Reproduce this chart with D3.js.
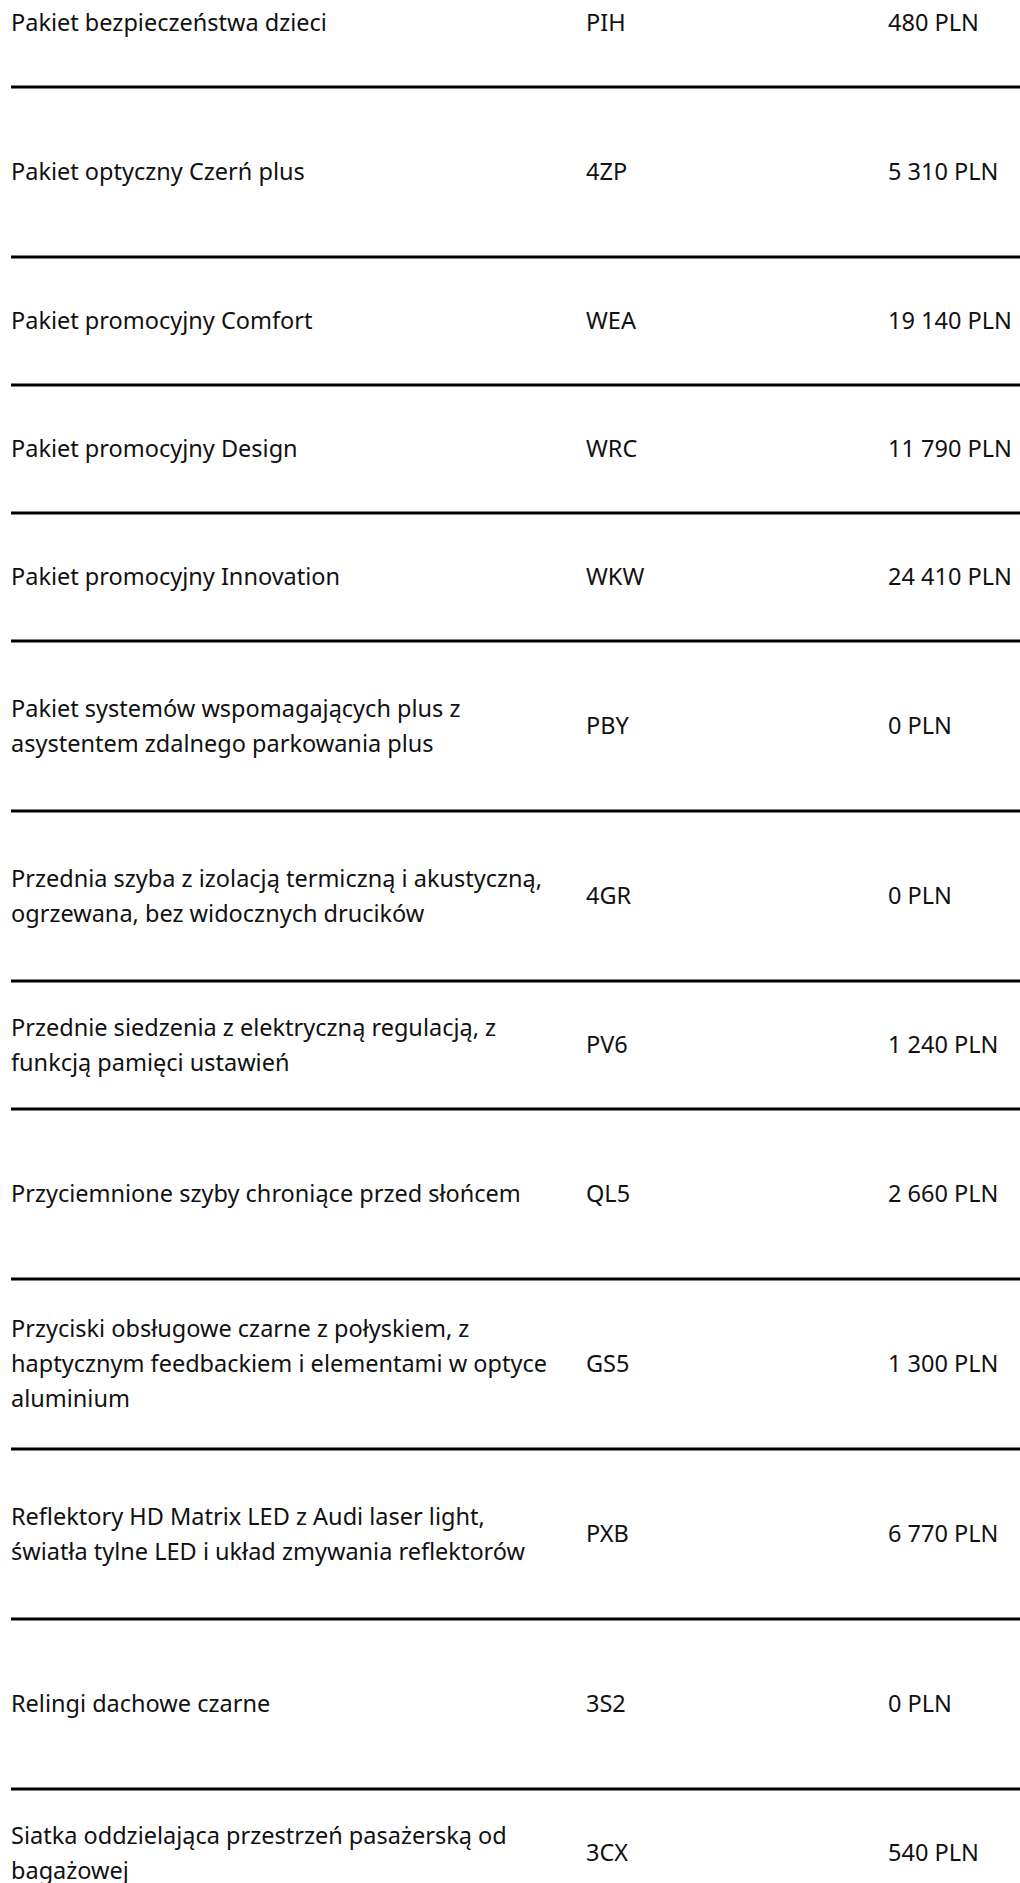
<!DOCTYPE html>
<html>
<head>
<meta charset="utf-8">
<script src="https://cdn.jsdelivr.net/npm/d3@7"></script>
<style>
body { margin:0; background:#fff; }
text { font-family:"Noto Sans", sans-serif; font-size:23.5px; fill:#111; }
</style>
</head>
<body>
<script>
var options = [
	"Pakiet bezpieczeństwa dzieci",
	"Pakiet optyczny Czerń plus",
	"Pakiet promocyjny Comfort",
	"Pakiet promocyjny Design",
	"Pakiet promocyjny Innovation",
	"Pakiet systemów wspomagających plus z\nasystentem zdalnego parkowania plus",
	"Przednia szyba z izolacją termiczną i akustyczną,\nogrzewana, bez widocznych drucików",
	"Przednie siedzenia z elektryczną regulacją, z\nfunkcją pamięci ustawień",
	"Przyciemnione szyby chroniące przed słońcem",
	"Przyciski obsługowe czarne z połyskiem, z\nhaptycznym feedbackiem i elementami w optyce\naluminium",
	"Reflektory HD Matrix LED z Audi laser light,\nświatła tylne LED i układ zmywania reflektorów",
	"Relingi dachowe czarne",
	"Siatka oddzielająca przestrzeń pasażerską od\nbagażowej"
];
var codes = ["PIH","4ZP","WEA","WRC","WKW","PBY","4GR","PV6","QL5","GS5","PXB","3S2","3CX"];
var prices = [480, 5310, 19140, 11790, 24410, 0, 0, 1240, 2660, 1300, 6770, 0, 540];

// layout: row pitch in px (the page cuts the first row at the top)
var rowPitch = [128,170,128,128,128,170,170,128,170,170,170,170,128];
var top0 = -41, lineGap = 35;

var width = 1020, height = 1883;
var pl = d3.formatLocale({decimal:",", thousands:"\u00a0", grouping:[3], currency:["","\u00a0PLN"]});
var fmt = pl.format("$,.0f");

var tops = [], y0 = top0;
rowPitch.forEach(function(p){ tops.push(y0); y0 += p; });

var rowIdx = d3.range(options.length);
var yMid = d3.scaleOrdinal().domain(rowIdx).range(rowIdx.map(function(i){ return tops[i] + rowPitch[i]/2; }));
var yLine = d3.scaleOrdinal().domain(rowIdx).range(rowIdx.map(function(i){ return tops[i] + rowPitch[i]; }));
var x = d3.scaleOrdinal().domain(["option","code","price"]).range([11, 586, 888]);

var svg = d3.select("body").append("svg")
	.attr("width", width)
	.attr("height", height);

var rows = svg.selectAll(".row")
	.data(rowIdx)
	.enter().append("g")
	.attr("class", "row");

rows.append("line")
	.attr("x1", 11)
	.attr("x2", width)
	.attr("y1", function(i){ return yLine(i); })
	.attr("y2", function(i){ return yLine(i); })
	.attr("stroke", "#000")
	.attr("stroke-width", 3);

rows.append("text")
	.attr("x", x("option"))
	.attr("y", function(i){ return yMid(i); })
	.each(function(i){
		var parts = options[i].split("\n");
		var t = d3.select(this);
		parts.forEach(function(s, k){
			t.append("tspan")
				.attr("x", x("option"))
				.attr("y", yMid(i) + (k - (parts.length-1)/2)*lineGap)
				.attr("dy", "0.35em")
				.text(s);
		});
	});

rows.append("text")
	.attr("x", x("code"))
	.attr("y", function(i){ return yMid(i); })
	.attr("dy", "0.35em")
	.text(function(i){ return codes[i]; });

rows.append("text")
	.attr("x", x("price"))
	.attr("y", function(i){ return yMid(i); })
	.attr("dy", "0.35em")
	.text(function(i){ return fmt(prices[i]); });
</script>
</body>
</html>
